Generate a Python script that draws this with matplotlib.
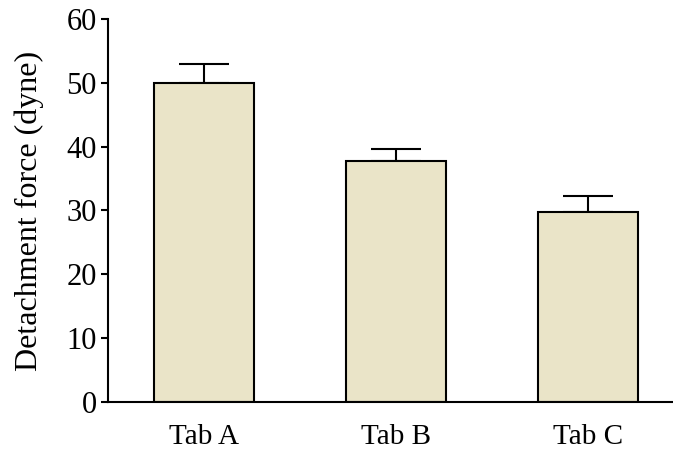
import matplotlib
matplotlib.use("Agg")
import matplotlib.pyplot as plt

categories = ["Tab A", "Tab B", "Tab C"]
means = [50.0, 37.7, 29.8]
errors = [3.0, 1.9, 2.5]
yticks = [0, 10, 20, 30, 40, 50, 60]

plt.rcParams["font.family"] = ["Liberation Serif", "DejaVu Serif"]

fig = plt.figure(figsize=(6.73, 4.5), dpi=100)
ax = fig.add_axes([0.1605, 0.1067, 0.8395, 0.8511])

x = list(range(len(categories)))
ax.bar(x, means, width=0.52, color="#EAE4C8", edgecolor="black",
       linewidth=1.5, zorder=2)
ax.errorbar(x, means, yerr=[[0] * len(errors), errors], fmt="none",
            ecolor="black", elinewidth=1.5, capsize=18, capthick=1.5,
            zorder=1)

ax.set_xlim(-0.5, 2.44)
ax.set_ylim(0, 60)
ax.set_yticks(yticks)
ax.set_xticks(x)
ax.set_xticklabels(categories)
ax.set_ylabel("Detachment force (dyne)", fontsize=23, labelpad=16)

for side in ("top", "right"):
    ax.spines[side].set_visible(False)
for side in ("left", "bottom"):
    ax.spines[side].set_linewidth(1.5)

ax.tick_params(axis="y", direction="out", length=5, width=1.5,
               labelsize=22, pad=3)
ax.tick_params(axis="x", length=0, labelsize=21, pad=16)

fig.savefig("out.png", dpi=100)
